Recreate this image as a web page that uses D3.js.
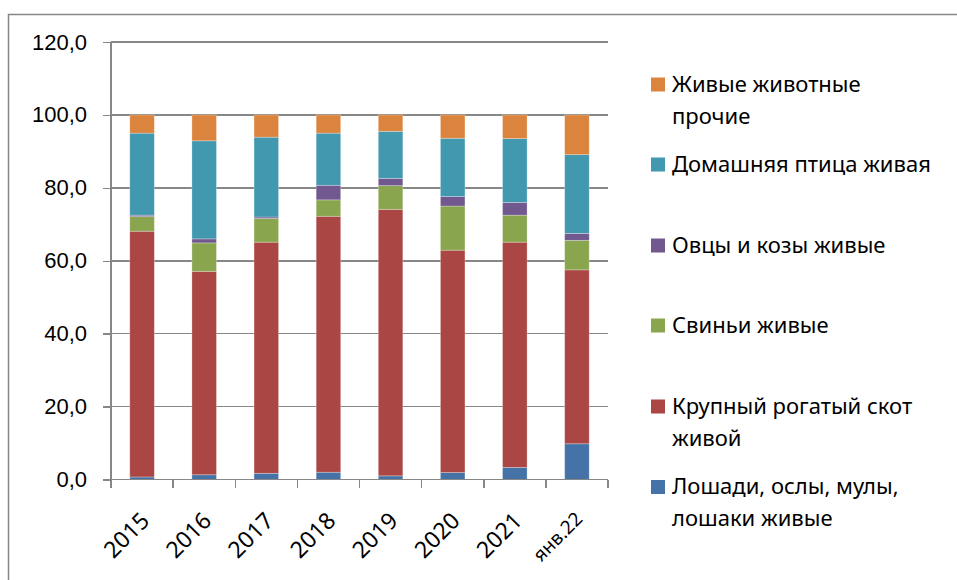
<!DOCTYPE html>
<html>
<head>
<meta charset="utf-8">
<script src="https://d3js.org/d3.v7.min.js"></script>
<style>
  body { margin: 0; padding: 0; background: #fff; }
  svg { display: block; font-family: "Noto Sans", "Open Sans", sans-serif; }
  .grid line, .axis path, .axis line { stroke: #878787; stroke-width: 1.5; shape-rendering: crispEdges; }
  .axis text { fill: #000; font-size: 22px; }
  .legend text { fill: #000; font-size: 22px; }
</style>
</head>
<body>
<div id="chart"></div>
<script>
// categories and series (percent of total, stacked to ~100)
var years = ["2015", "2016", "2017", "2018", "2019", "2020", "2021", "янв.22"];

var horses  = [0.7, 1.3, 1.7, 2.0, 1.0, 1.9, 3.3, 9.8];
var cattle  = [67.4, 55.8, 63.4, 70.2, 73.1, 61.0, 61.8, 47.7];
var pigs    = [4.0, 7.8, 6.5, 4.5, 6.5, 12.1, 7.4, 8.1];
var sheep   = [0.4, 1.1, 0.4, 4.0, 2.0, 2.6, 3.5, 1.9];
var poultry = [22.5, 26.9, 21.9, 14.3, 12.9, 16.0, 17.5, 21.6];
var other   = [5.0, 7.1, 6.1, 5.0, 4.5, 6.4, 6.5, 10.9];

var yTicks = [0, 20, 40, 60, 80, 100, 120];

var seriesNames = [
  ["Лошади, ослы, мулы,", "лошаки живые"],
  ["Крупный рогатый скот", "живой"],
  ["Свиньи живые"],
  ["Овцы и козы живые"],
  ["Домашняя птица живая"],
  ["Живые животные", "прочие"]
];
var seriesValues = [horses, cattle, pigs, sheep, poultry, other];
var colors = ["#4572A7", "#AA4643", "#89A54E", "#71588F", "#4198AF", "#DB843D"];

var width = 957, height = 580;
var plotL = 111, plotR = 608, plotT = 42, plotB = 479.5;

var svg = d3.select("#chart").append("svg")
  .attr("width", width)
  .attr("height", height);

// outer frame
svg.append("rect")
  .attr("x", 8.5).attr("y", 14.5)
  .attr("width", 1000).attr("height", 700)
  .attr("fill", "none")
  .attr("stroke", "#878787")
  .attr("stroke-width", 1.5);

var x = d3.scaleBand().domain(years).range([plotL, plotR]).padding(0);
var y = d3.scaleLinear().domain([0, 120]).range([plotB, plotT]);

// gridlines
svg.append("g").attr("class", "grid")
  .selectAll("line")
  .data(yTicks.filter(function (d) { return d > 0; }))
  .enter().append("line")
  .attr("x1", plotL).attr("x2", plotR)
  .attr("y1", function (d) { return y(d); })
  .attr("y2", function (d) { return y(d); });

// stack
var table = years.map(function (yr, i) {
  var row = { year: yr };
  seriesValues.forEach(function (s, k) { row["s" + k] = s[i]; });
  return row;
});
var keys = seriesValues.map(function (s, k) { return "s" + k; });
var stacked = d3.stack().keys(keys)(table);

var barW = x.bandwidth() * 0.395;

svg.append("g").selectAll("g")
  .data(stacked)
  .enter().append("g")
  .attr("fill", function (d, k) { return colors[k]; })
  .selectAll("rect")
  .data(function (d) { return d; })
  .enter().append("rect")
  .attr("x", function (d) { return x(d.data.year) + (x.bandwidth() - barW) / 2; })
  .attr("width", barW)
  .attr("y", function (d) { return y(d[1]); })
  .attr("height", function (d) { return y(d[0]) - y(d[1]); })
  .attr("stroke", "#fff")
  .attr("stroke-opacity", 0.35)
  .attr("stroke-width", 0.8);

// y axis
var yAxis = d3.axisLeft(y)
  .tickValues(yTicks)
  .tickSize(8)
  .tickPadding(16)
  .tickFormat(function (d) { return d3.format(".1f")(d).replace(".", ","); });

svg.append("g")
  .attr("class", "axis")
  .attr("transform", "translate(" + plotL + ",0)")
  .call(yAxis)
  .call(function (g) { g.select(".domain").attr("d", "M0," + y(120) + "V" + plotB); });

// x axis with ticks at category boundaries
var xAxis = svg.append("g")
  .attr("class", "axis")
  .attr("transform", "translate(0," + plotB + ")");

xAxis.append("line")
  .attr("x1", plotL).attr("x2", plotR)
  .attr("y1", 0).attr("y2", 0);

xAxis.selectAll(".bt")
  .data(years.concat(["end"]))
  .enter().append("line")
  .attr("x1", function (d, i) { return plotL + i * x.step(); })
  .attr("x2", function (d, i) { return plotL + i * x.step(); })
  .attr("y1", 0).attr("y2", 8);

xAxis.selectAll("text")
  .data(years)
  .enter().append("text")
  .attr("transform", function (d) {
    return "translate(" + (x(d) + x.bandwidth() / 2 - 3) + ",31) rotate(-45)";
  })
  .attr("text-anchor", "end")
  .attr("dy", "0.72em")
  .style("font-size", function (d) { return d.length > 4 ? "19px" : "23px"; })
  .text(function (d) { return d; });

// legend, top entry is the last series
var legend = svg.append("g").attr("class", "legend");
var order = [5, 4, 3, 2, 1, 0];
var baselines = [91.5, 171.5, 252.5, 332.5, 413.5, 494];

order.forEach(function (k, i) {
  var g = legend.append("g");
  g.append("rect")
    .attr("x", 651).attr("y", baselines[i] - 14)
    .attr("width", 14).attr("height", 14)
    .attr("fill", colors[k]);
  seriesNames[k].forEach(function (line, j) {
    g.append("text")
      .attr("x", 672)
      .attr("y", baselines[i] + j * 32)
      .text(line);
  });
});
</script>
</body>
</html>
